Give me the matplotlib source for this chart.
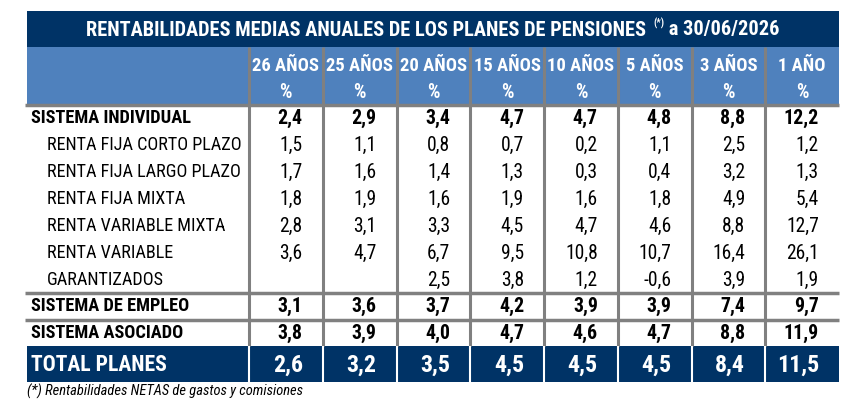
import matplotlib
matplotlib.use("Agg")
import matplotlib.pyplot as plt
from matplotlib.patches import Rectangle
from matplotlib import font_manager as fm

# ---------------- data ----------------
title_main = "RENTABILIDADES MEDIAS ANUALES DE LOS PLANES DE PENSIONES"
title_sup = "(*)"
title_tail = " a 30/06/2026"
footnote = "(*) Rentabilidades NETAS de gastos y comisiones"

columns = ["26 AÑOS", "25 AÑOS", "20 AÑOS", "15 AÑOS", "10 AÑOS", "5 AÑOS", "3 AÑOS", "1 AÑO"]

row_labels = ["SISTEMA INDIVIDUAL", "RENTA FIJA CORTO PLAZO", "RENTA FIJA LARGO PLAZO",
              "RENTA FIJA MIXTA", "RENTA VARIABLE MIXTA", "RENTA VARIABLE", "GARANTIZADOS",
              "SISTEMA DE EMPLEO", "SISTEMA ASOCIADO"]
row_is_main = [True, False, False, False, False, False, False, True, True]

sistema_individual = [2.4, 2.9, 3.4, 4.7, 4.7, 4.8, 8.8, 12.2]
rf_corto = [1.5, 1.1, 0.8, 0.7, 0.2, 1.1, 2.5, 1.2]
rf_largo = [1.7, 1.6, 1.4, 1.3, 0.3, 0.4, 3.2, 1.3]
rf_mixta = [1.8, 1.9, 1.6, 1.9, 1.6, 1.8, 4.9, 5.4]
rv_mixta = [2.8, 3.1, 3.3, 4.5, 4.7, 4.6, 8.8, 12.7]
rv = [3.6, 4.7, 6.7, 9.5, 10.8, 10.7, 16.4, 26.1]
garantizados = [None, None, 2.5, 3.8, 1.2, -0.6, 3.9, 1.9]
sistema_empleo = [3.1, 3.6, 3.7, 4.2, 3.9, 3.9, 7.4, 9.7]
sistema_asociado = [3.8, 3.9, 4.0, 4.7, 4.6, 4.7, 8.8, 11.9]
total_label = "TOTAL PLANES"
total_planes = [2.6, 3.2, 3.5, 4.5, 4.5, 4.5, 8.4, 11.5]

rows = [sistema_individual, rf_corto, rf_largo, rf_mixta, rv_mixta, rv,
        garantizados, sistema_empleo, sistema_asociado]

# ---------------- style ----------------
NAVY = "#003366"
BLUE = "#4F81BD"
GRAY = "#808080"

avail = {f.name for f in fm.fontManager.ttflist}
FAM = [f for f in ["Roboto Condensed", "PT Sans Narrow", "Liberation Sans", "DejaVu Sans"] if f in avail]
plt.rcParams["font.family"] = FAM


def fmt(v):
    if v is None:
        return ""
    return f"{v:.1f}".replace(".", ",")


fig = plt.figure(figsize=(8.6, 4.2), dpi=100)
ax = fig.add_axes([0, 0, 1, 1])
ax.set_xlim(0, 860)
ax.set_ylim(420, 0)
ax.axis("off")
fig.canvas.draw()
R = fig.canvas.get_renderer()


def text_w(s, size, **kw):
    t = ax.text(0, 0, s, fontsize=size, **kw)
    w = t.get_window_extent(R).width
    t.remove()
    return w


def fit(s, target, base=12, **kw):
    return base * target / text_w(s, base, **kw)


X0, X1 = 27, 839
label_w = 249
ncol = len(columns)
col_w = (X1 - label_w) / ncol
col_edges = [label_w + i * col_w for i in range(ncol + 1)]

TITLE_TOP, TITLE_BOT = 11, 47
HEAD_BOT = 105
row_centers = [118 + i * 27 for i in range(7)] + [306, 333]
TOT_TOP, TOT_BOT = 346, 382

# font sizes fitted to the reference's text widths
fs_main = fit(row_labels[0], 160, fontweight="bold")
fs_sub = fit(row_labels[1], 194)
fs_head = fit(columns[0], 67, fontweight="bold")
fs_total = fit(total_label, 136, fontweight="bold")
fs_foot = fit(footnote, 276, style="italic")

# bars
ax.add_patch(Rectangle((X0, TITLE_TOP), X1 - X0, TITLE_BOT - TITLE_TOP, color=NAVY, lw=0))
ax.add_patch(Rectangle((X0, TITLE_BOT), X1 - X0, HEAD_BOT - TITLE_BOT, color=BLUE, lw=0))
ax.add_patch(Rectangle((X0, TOT_TOP), X1 - X0, TOT_BOT - TOT_TOP, color=NAVY, lw=0))

# title text (three parts), fitted to 693 px
base = 15
gap = 1
w1 = text_w(title_main, base, fontweight="bold")
w2 = text_w(title_sup, base * 0.5, fontweight="bold")
w3 = text_w(title_tail, base, fontweight="bold")
k = (693 - gap) / (w1 + w2 + w3)
fs_t = base * k
w1, w2, w3 = w1 * k, w2 * k, w3 * k
xs = (X0 + X1) / 2 - (w1 + gap + w2 + w3) / 2
yc = (TITLE_TOP + TITLE_BOT) / 2 + 1
ax.text(xs, yc, title_main, fontsize=fs_t, fontweight="bold", color="white", va="center")
ax.text(xs + w1 + gap, yc - 7, title_sup, fontsize=fs_t * 0.5, fontweight="bold", color="white", va="center")
ax.text(xs + w1 + gap + w2, yc, title_tail, fontsize=fs_t, fontweight="bold", color="white", va="center")

# header labels
for i, c in enumerate(columns):
    cx = (col_edges[i] + col_edges[i + 1]) / 2
    ax.text(cx, 66, c, fontsize=fs_head, fontweight="bold", color="white", ha="center", va="center")
    ax.text(cx, 93, "%", fontsize=fs_head * 1.05, fontweight="bold", color="white", ha="center", va="center")

# grid lines
for e in col_edges[:-1]:
    ax.plot([e, e], [TITLE_BOT, TOT_TOP], color=GRAY, lw=2.2, solid_capstyle="butt")
    ax.plot([e, e], [TOT_TOP, TOT_BOT], color="white", lw=1.5, solid_capstyle="butt")
for y in [HEAD_BOT, 293, 320]:
    ax.plot([X0 - 2, X1], [y, y], color=GRAY, lw=2.5, solid_capstyle="butt")

# body
for lab, main, vals, yc in zip(row_labels, row_is_main, rows, row_centers):
    fs = fs_main if main else fs_sub
    fw = "bold" if main else "normal"
    ax.text(31 if main else 47, yc, lab, fontsize=fs, fontweight=fw,
            color="black", ha="left", va="center")
    for i, v in enumerate(vals):
        ax.text(col_edges[i + 1] - 20, yc, fmt(v), fontsize=fs * 1.08, fontweight=fw,
                color="black", ha="right", va="center")

# total row
tc = (TOT_TOP + TOT_BOT) / 2 + 1
ax.text(31, tc, total_label, fontsize=fs_total, fontweight="bold", color="white", ha="left", va="center")
for i, v in enumerate(total_planes):
    ax.text(col_edges[i + 1] - 20, tc, fmt(v), fontsize=fs_total * 1.1, fontweight="bold", color="white",
            ha="right", va="center")

# footnote
ax.text(27, 391, footnote, fontsize=fs_foot, style="italic", color="black", ha="left", va="center")

fig.savefig("out.png", dpi=100)
